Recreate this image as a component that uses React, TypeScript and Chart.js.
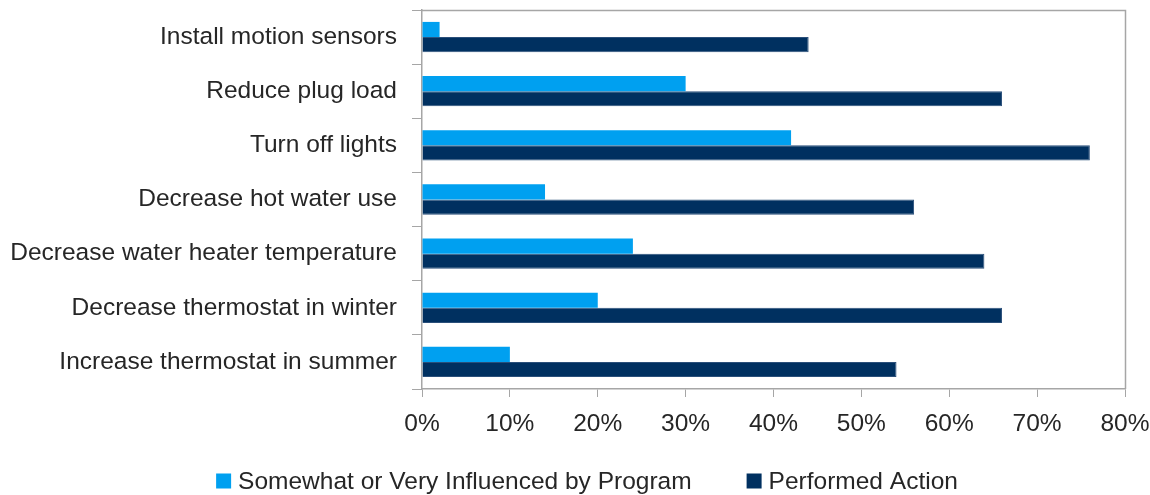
import React, { useEffect, useRef } from "react";
import { Chart, registerables } from "chart.js";

Chart.register(...registerables);

const categories = [
  "Install motion sensors",
  "Reduce plug load",
  "Turn off lights",
  "Decrease hot water use",
  "Decrease water heater temperature",
  "Decrease thermostat in winter",
  "Increase thermostat in summer",
];
const influenced = [2, 30, 42, 14, 24, 20, 10];
const performed = [44, 66, 76, 56, 64, 66, 54];
const seriesNames = ["Somewhat or Very Influenced by Program", "Performed Action"];
const xTicks = [0, 10, 20, 30, 40, 50, 60, 70, 80];

const FONT = "'Liberation Sans', Arial, sans-serif";
const FONT_SIZE = 24.5;
const TEXT_COLOR = "#262626";
const AXIS_COLOR = "#a6a6a6";

const framePlugin = {
  id: "frame",
  afterDraw(chart: any) {
    const { ctx, chartArea } = chart;
    ctx.save();
    ctx.strokeStyle = AXIS_COLOR;
    ctx.lineWidth = 1.5;
    ctx.beginPath();
    ctx.moveTo(chartArea.left, chartArea.top + 0.5);
    ctx.lineTo(chartArea.right + 0.5, chartArea.top + 0.5);
    ctx.lineTo(chartArea.right + 0.5, chartArea.bottom);
    ctx.stroke();
    ctx.restore();
  },
};

const legendPlugin = {
  id: "customLegend",
  afterDraw(chart: any) {
    const { ctx } = chart;
    const box = 15;
    const gap = 7;
    const spacing = 55;
    const centerX = 587;
    const y = 481;
    ctx.save();
    ctx.font = `${FONT_SIZE}px ${FONT}`;
    const items = chart.data.datasets.map((ds: any) => ({
      text: ds.label,
      color: ds.backgroundColor,
      w: ctx.measureText(ds.label).width,
    }));
    const total =
      items.reduce((s: number, it: any) => s + box + gap + it.w, 0) +
      spacing * (items.length - 1);
    let x = centerX - total / 2;
    ctx.textBaseline = "middle";
    ctx.textAlign = "left";
    items.forEach((it: any) => {
      ctx.fillStyle = it.color;
      ctx.fillRect(x, y - box / 2, box, box);
      ctx.fillStyle = TEXT_COLOR;
      ctx.fillText(it.text, x + box + gap, y + 1);
      x += box + gap + it.w + spacing;
    });
    ctx.restore();
  },
};

export default function App() {
  const ref = useRef<HTMLCanvasElement>(null);
  useEffect(() => {
    document.body.style.margin = "0";
    const chart = new Chart(ref.current!, {
      type: "bar",
      data: {
        labels: categories,
        datasets: [
          {
            label: seriesNames[0],
            data: influenced,
            backgroundColor: "#00a0f0",
            borderWidth: 0,
            categoryPercentage: 0.56,
            barPercentage: 1.0,
          },
          {
            label: seriesNames[1],
            data: performed,
            backgroundColor: "#003060",
            borderColor: "#2a4f7a",
            borderWidth: 1,
            categoryPercentage: 0.56,
            barPercentage: 1.0,
          },
        ],
      },
      options: {
        indexAxis: "y",
        responsive: false,
        animation: false,
        layout: { padding: { top: 10, right: 25, left: 0, bottom: 56 } },
        plugins: {
          tooltip: { enabled: false },
          legend: { display: false },
        },
        scales: {
          y: {
            grid: {
              drawOnChartArea: false,
              drawTicks: true,
              tickLength: 10,
              color: AXIS_COLOR,
              offset: true,
            },
            border: { color: AXIS_COLOR, width: 1.5 },
            ticks: {
              color: TEXT_COLOR,
              padding: 15,
              font: { family: FONT, size: FONT_SIZE },
            },
            afterFit(scale: any) {
              scale.width = 422;
              scale.paddingTop = 0;
              scale.paddingBottom = 0;
            },
          },
          x: {
            min: 0,
            max: 80,
            grid: {
              drawOnChartArea: false,
              drawTicks: true,
              tickLength: 8,
              color: AXIS_COLOR,
            },
            border: { color: AXIS_COLOR, width: 1.5 },
            afterBuildTicks(scale: any) {
              scale.ticks = xTicks.map((v) => ({ value: v }));
            },
            ticks: {
              color: TEXT_COLOR,
              padding: 13,
              maxRotation: 0,
              font: { family: FONT, size: FONT_SIZE },
              callback: (v: any) => v + "%",
            },
            afterFit(scale: any) {
              scale.height = 50;
              scale.paddingRight = 0;
            },
          },
        },
      },
      plugins: [framePlugin, legendPlugin],
    });
    return () => chart.destroy();
  }, []);
  return <canvas ref={ref} width={1150} height={495} />;
}
